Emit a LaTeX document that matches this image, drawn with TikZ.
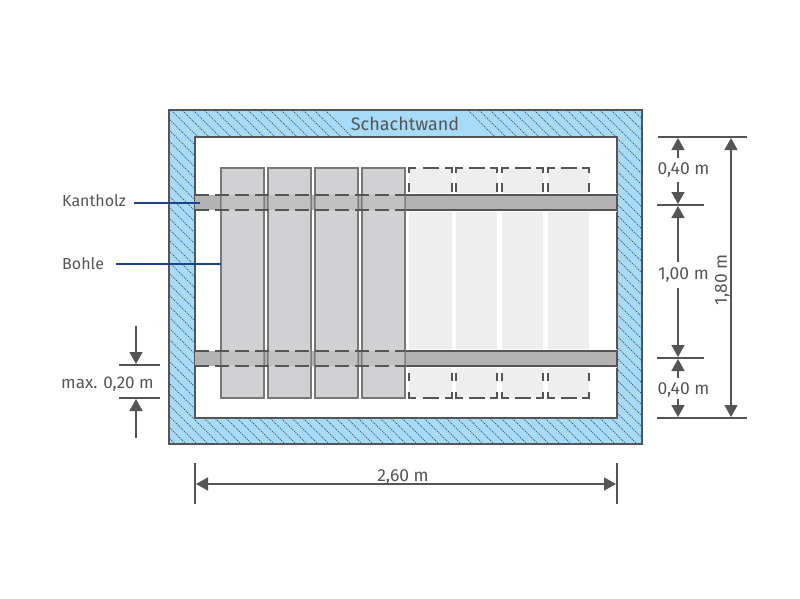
\documentclass[tikz,border=0pt]{standalone}
\usepackage{fontspec}
\setmainfont{Fira Sans}
\usetikzlibrary{arrows.meta}
\definecolor{wall}{HTML}{A6DCF8}
\definecolor{ink}{HTML}{555555}
\definecolor{leader}{HTML}{1F3F8F}
\definecolor{plank}{HTML}{D1D1D3}
\definecolor{plankline}{HTML}{777777}
\definecolor{ghost}{HTML}{EEEEEE}
\definecolor{beam}{HTML}{B3B3B3}
\tikzset{
  x=1pt,y=-1pt,
  lab/.style={font=\fontsize{16}{18}\selectfont,text=ink,inner sep=0pt},
  biglab/.style={font=\fontsize{17.5}{19}\selectfont,text=ink,inner sep=0pt},
  dim/.style={draw=ink,line width=1.5pt},
  arr/.style={draw=ink,line width=1.5pt,-{Triangle[length=12pt,width=13pt]}},
  plankbox/.style={draw=plankline,line width=1.6pt,fill=plank},
  ghostdash/.style={draw=ink,line width=1.5pt},
  beamdash/.style={draw=ink,line width=1.5pt,dash pattern=on 14pt off 6pt},
  lead/.style={draw=leader,line width=1.4pt},
}
\begin{document}
\begin{tikzpicture}
\useasboundingbox (0,0) rectangle (800,598);
\fill[white] (0,0) rectangle (800,598);
% wall
\fill[wall] (169,110) rectangle (642,444);
\begin{scope}
\clip (169,110) -- (326,110) -- (353,137) -- (195,137) -- (195,418) -- (617,418) -- (617,137) -- (491,137) -- (464,110) -- (642,110) -- (642,444) -- (169,444) -- cycle;
\foreach \k in {0,...,75}
  \draw[ink,line width=1pt,dash pattern=on 1pt off 1.2pt] (169+\k*11-340,109) -- ++(340,340);
\end{scope}
\draw[ink,line width=2pt] (169,110) rectangle (642,444);
\draw[ink,line width=2pt,fill=white] (195,137) rectangle (617,418);
\node[font=\fontsize{18}{20}\selectfont,text=ink,inner sep=0pt] (wt) at (405,124) {Schachtwand};
% ghost planks
\foreach \a/\b/\m in {409/452/430.5,456/497/476.5,502/543/522.5,548/589/568.5}{
  \fill[ghost] (\a,168) rectangle (\b,398);
  \draw[ghostdash] (\a,173) -- (\a,168) -- (\a+7,168);
  \draw[ghostdash] (\b,173) -- (\b,168) -- (\b-7,168);
  \draw[ghostdash] (\m-8,168) -- (\m+8,168);
  \draw[ghostdash] (\a,183) -- (\a,192);
  \draw[ghostdash] (\b,183) -- (\b,192);
  \draw[ghostdash] (\a,373) -- (\a,381);
  \draw[ghostdash] (\b,373) -- (\b,381);
  \draw[ghostdash] (\a,392) -- (\a,398) -- (\a+7,398);
  \draw[ghostdash] (\b,392) -- (\b,398) -- (\b-7,398);
  \draw[ghostdash] (\m-8,398) -- (\m+8,398);
}
% beams
\foreach \t in {195,351}{
  \fill[white] (405,\t-2) rectangle (617,\t+17);
  \fill[beam] (195,\t) rectangle (617,\t+15);
  \draw[ink,line width=1.8pt] (405,\t) rectangle (617,\t+15);
}
% planks
\foreach \a/\b in {221/264,268/311,315/358,362/405}{
  \draw[plankbox] (\a,168) rectangle (\b,398);
}
\foreach \t in {195,351}{
  \fill[beam,opacity=.55] (221,\t) rectangle (264,\t+15) (268,\t) rectangle (311,\t+15) (315,\t) rectangle (358,\t+15) (362,\t) rectangle (405,\t+15);
  \draw[beamdash] (195,\t) -- (405,\t);
  \draw[beamdash] (195,\t+15) -- (405,\t+15);
}
% labels and leaders
\node[lab,anchor=west] (kh) at (62,201) {Kantholz};
\node[lab,anchor=west] (bo) at (62,264) {Bohle};
\coordinate (kh1) at (134,203); \coordinate (kh2) at (200,203);
\coordinate (bo1) at (116,264); \coordinate (bo2) at (221,264);
\draw[lead] (kh1) -- (kh2);
\draw[lead] (bo1) -- (bo2);
% right dimensions
\coordinate (t1) at (658,137); \coordinate (t2) at (747,137);
\coordinate (m1) at (657,205); \coordinate (m2) at (704,205);
\coordinate (n1) at (657,358); \coordinate (n2) at (704,358);
\coordinate (b1) at (657,418); \coordinate (b2) at (747,418);
\draw[dim] (t1) -- (t2);
\draw[dim] (m1) -- (m2);
\draw[dim] (n1) -- (n2);
\draw[dim] (b1) -- (b2);
\node[biglab] (d1) at (683.5,170) {0,40 m};
\node[biglab] (d2) at (683.5,275) {1,00 m};
\node[biglab] (d3) at (683.5,390) {0,40 m};
\node[biglab,rotate=90] (d4) at (722.5,280) {1,80 m};
\draw[arr] (678,158) -- (678,138);
\draw[arr] (678,182) -- (678,204);
\draw[arr] (678,262) -- (678,206);
\draw[arr] (678,288) -- (678,357);
\draw[arr] (678,378) -- (678,359);
\draw[arr] (678,399) -- (678,417);
\draw[arr] (731,268) -- (731,138);
\draw[arr] (731,268) -- (731,417);
% left dimension
\coordinate (l1) at (119,365); \coordinate (l2) at (160,365);
\coordinate (l3) at (119,398); \coordinate (l4) at (160,398);
\draw[dim] (l1) -- (l2);
\draw[dim] (l3) -- (l4);
\node[font=\fontsize{17}{19}\selectfont,text=ink,inner sep=0pt] (md) at (107.5,384) {max. 0,20 m};
\draw[arr] (136,326) -- (136,364);
\draw[arr] (136,438) -- (136,399);
% bottom dimension
\coordinate (h1) at (195,463); \coordinate (h2) at (195,504);
\coordinate (h3) at (617,463); \coordinate (h4) at (617,504);
\draw[dim] (h1) -- (h2);
\draw[dim] (h3) -- (h4);
\node[biglab] (bd) at (403,477) {2,60 m};
\draw[arr] (402,484) -- (196,484);
\draw[arr] (402,484) -- (616,484);
\end{tikzpicture}
\end{document}
